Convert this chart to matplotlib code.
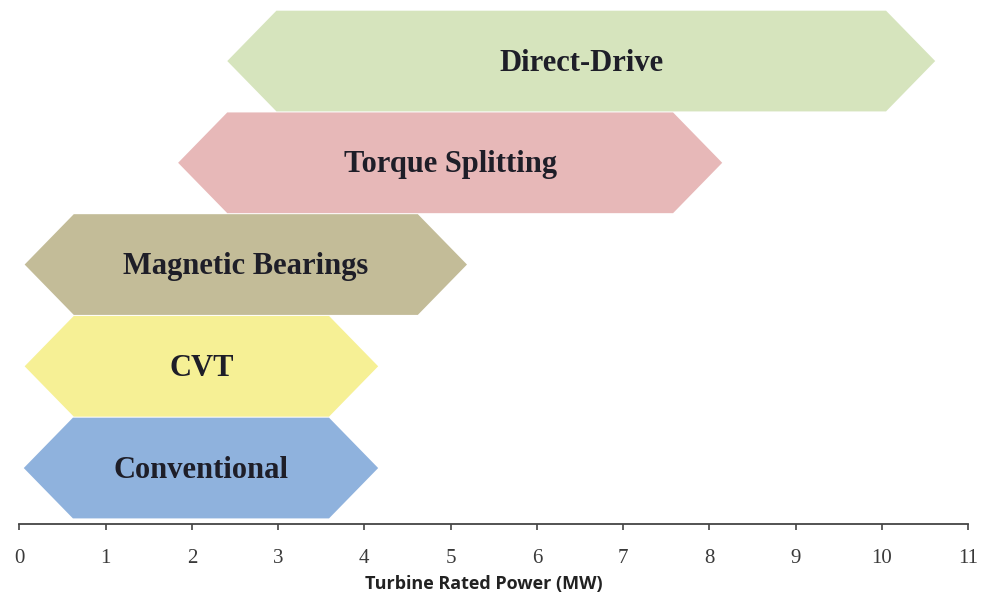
import matplotlib
matplotlib.use("Agg")
import matplotlib.pyplot as plt
from matplotlib.patches import Polygon

# Data
technologies = ["Conventional", "CVT", "Magnetic Bearings", "Torque Splitting", "Direct-Drive"]
range_start_mw = [0.05, 0.06, 0.06, 1.84, 2.41]
range_end_mw = [4.16, 4.16, 5.19, 8.15, 10.62]
tick_values = [0, 1, 2, 3, 4, 5, 6, 7, 8, 9, 10, 11]
tick_labels = ["0", "1", "2", "3", "4", "5", "6", "7", "8", "9", "10", "11"]
x_label = "Turbine Rated Power (MW)"

# Styles
colors = ["#8fb2dd", "#f6f095", "#c3bc98", "#e7b8b8", "#d6e4bd"]
tip_depth = 0.57   # MW, depth of the arrow point
row_height = 0.99

fig = plt.figure(figsize=(9.83, 5.99), dpi=100)
ax = fig.add_axes([0.0198, 1 - 524 / 599, 0.9649, 524 / 599])
ax.set_xlim(0, 11)
ax.set_ylim(-0.55, 4.6)

for i, (name, s, e, c) in enumerate(zip(technologies, range_start_mw, range_end_mw, colors)):
    y0 = i - row_height / 2
    y1 = i + row_height / 2
    pts = [(s, i), (s + tip_depth, y1), (e - tip_depth, y1), (e, i),
           (e - tip_depth, y0), (s + tip_depth, y0)]
    ax.add_patch(Polygon(pts, closed=True, facecolor=c, edgecolor="none", zorder=2))
    ax.text((s + e) / 2, i - 0.02, name, ha="center", va="center",
            fontsize=22, fontweight="bold", family="Liberation Serif",
            color="#1e1e28", zorder=3)

for side in ["left", "right", "top"]:
    ax.spines[side].set_visible(False)
ax.spines["bottom"].set_color("#444444")
ax.spines["bottom"].set_linewidth(1.3)
ax.set_yticks([])
ax.set_xticks(tick_values)
ax.set_xticklabels(tick_labels, family="Liberation Serif", fontsize=15, color="#3a3a3a")
ax.tick_params(axis="x", direction="out", length=4, width=1.2, color="#444444", pad=14)
ax.set_xlabel(x_label, fontsize=13, fontweight="bold", family="Open Sans",
              color="#222222")
ax.xaxis.set_label_coords(0.49, -0.097)

fig.savefig("out.png", dpi=100, facecolor="white")
